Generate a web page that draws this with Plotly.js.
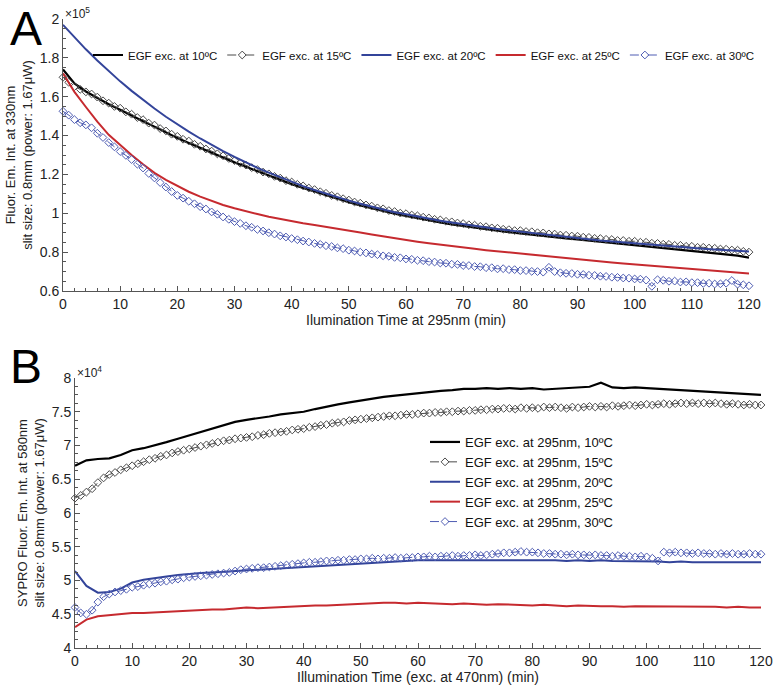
<!DOCTYPE html>
<html><head><meta charset="utf-8">
<script src="https://cdn.plot.ly/plotly-3.0.1.min.js"></script>
<style>html,body{margin:0;padding:0;background:#fff}#chart{width:775px;height:686px}</style>
</head><body><div id="chart"></div>
<script>
// ---------- time grids (min) ----------
const t2 = [0,2,4,6,8,10,12,14,16,18,20,22,24,26,28,30,32,34,36,38,40,42,44,46,48,50,52,54,56,58,60,62,64,66,68,70,72,74,76,78,80,82,84,86,88,90,92,94,96,98,100,102,104,106,108,110,112,114,116,118,120];
const t1 = [0,1,2,3,4,5,6,7,8,9,10,11,12,13,14,15,16,17,18,19,20,21,22,23,24,25,26,27,28,29,30,31,32,33,34,35,36,37,38,39,40,41,42,43,44,45,46,47,48,49,50,51,52,53,54,55,56,57,58,59,60,61,62,63,64,65,66,67,68,69,70,71,72,73,74,75,76,77,78,79,80,81,82,83,84,85,86,87,88,89,90,91,92,93,94,95,96,97,98,99,100,101,102,103,104,105,106,107,108,109,110,111,112,113,114,115,116,117,118,119,120];

// ---------- Panel A (x10^5) ----------
const namesA = ['EGF exc. at 10ºC','EGF exc. at 15ºC','EGF exc. at 20ºC','EGF exc. at 25ºC','EGF exc. at 30ºC'];
const a10 = [1.740,1.668,1.627,1.592,1.561,1.533,1.502,1.474,1.446,1.416,1.388,1.362,1.336,1.311,1.287,1.262,1.239,1.216,1.194,1.172,1.150,1.130,1.111,1.092,1.074,1.057,1.041,1.026,1.012,0.998,0.986,0.974,0.963,0.953,0.943,0.934,0.926,0.918,0.910,0.903,0.896,0.889,0.883,0.877,0.871,0.866,0.860,0.854,0.849,0.843,0.838,0.832,0.826,0.821,0.815,0.809,0.803,0.797,0.790,0.782,0.772];
const a15 = [1.700,1.674,1.652,1.638,1.625,1.614,1.598,1.579,1.567,1.550,1.541,1.522,1.510,1.493,1.482,1.464,1.454,1.436,1.424,1.407,1.396,1.381,1.372,1.355,1.345,1.331,1.320,1.306,1.296,1.282,1.271,1.258,1.248,1.235,1.225,1.212,1.203,1.190,1.181,1.168,1.161,1.149,1.141,1.130,1.122,1.111,1.103,1.092,1.085,1.075,1.068,1.058,1.052,1.043,1.037,1.028,1.023,1.014,1.009,1.001,0.998,0.991,0.987,0.980,0.976,0.969,0.966,0.959,0.956,0.950,0.947,0.941,0.939,0.933,0.931,0.925,0.923,0.918,0.916,0.911,0.911,0.906,0.905,0.900,0.899,0.894,0.893,0.888,0.887,0.883,0.882,0.877,0.876,0.871,0.870,0.866,0.865,0.860,0.860,0.856,0.856,0.851,0.851,0.846,0.845,0.841,0.840,0.835,0.835,0.830,0.830,0.825,0.825,0.821,0.820,0.816,0.815,0.811,0.810,0.804,0.800];
const a20 = [1.970,1.905,1.844,1.786,1.731,1.679,1.630,1.583,1.539,1.497,1.458,1.420,1.385,1.351,1.320,1.290,1.261,1.234,1.209,1.185,1.162,1.140,1.120,1.101,1.082,1.065,1.049,1.033,1.019,1.005,0.995,0.983,0.972,0.962,0.952,0.943,0.935,0.927,0.919,0.912,0.905,0.898,0.891,0.885,0.878,0.872,0.866,0.860,0.855,0.850,0.845,0.840,0.835,0.831,0.826,0.822,0.818,0.814,0.810,0.806,0.803];
const a25 = [1.720,1.625,1.547,1.472,1.404,1.350,1.300,1.252,1.208,1.172,1.140,1.111,1.086,1.063,1.043,1.026,1.010,0.996,0.982,0.970,0.959,0.949,0.940,0.931,0.922,0.912,0.901,0.891,0.881,0.871,0.862,0.854,0.846,0.838,0.831,0.824,0.817,0.810,0.804,0.798,0.792,0.786,0.780,0.774,0.768,0.763,0.758,0.753,0.747,0.742,0.737,0.732,0.727,0.722,0.718,0.713,0.709,0.704,0.699,0.695,0.690];
const a30 = [1.525,1.505,1.482,1.466,1.455,1.440,1.412,1.390,1.364,1.342,1.318,1.298,1.277,1.253,1.233,1.205,1.182,1.158,1.135,1.112,1.092,1.078,1.062,1.049,1.034,1.022,1.007,0.995,0.981,0.969,0.957,0.948,0.936,0.928,0.917,0.909,0.900,0.893,0.884,0.878,0.870,0.864,0.857,0.852,0.845,0.840,0.833,0.829,0.822,0.818,0.810,0.806,0.800,0.796,0.790,0.787,0.781,0.779,0.773,0.771,0.765,0.763,0.758,0.756,0.751,0.749,0.744,0.743,0.738,0.737,0.731,0.731,0.726,0.725,0.720,0.720,0.714,0.715,0.710,0.710,0.705,0.705,0.701,0.700,0.697,0.722,0.700,0.694,0.691,0.690,0.686,0.685,0.681,0.680,0.676,0.675,0.671,0.670,0.667,0.666,0.662,0.661,0.656,0.624,0.658,0.655,0.650,0.651,0.646,0.647,0.643,0.643,0.639,0.640,0.636,0.637,0.640,0.654,0.635,0.632,0.627];

// ---------- Panel B (x10^4) ----------
const namesB = ['EGF exc. at 295nm, 10ºC','EGF exc. at 295nm, 15ºC','EGF exc. at 295nm, 20ºC','EGF exc. at 295nm, 25ºC','EGF exc. at 295nm, 30ºC'];
const b10 = [6.70,6.78,6.80,6.81,6.86,6.93,6.96,7.00,7.05,7.10,7.15,7.20,7.26,7.30,7.35,7.38,7.40,7.43,7.46,7.48,7.50,7.54,7.58,7.61,7.64,7.67,7.70,7.72,7.74,7.76,7.78,7.80,7.81,7.82,7.84,7.84,7.85,7.84,7.85,7.84,7.85,7.83,7.84,7.85,7.86,7.87,7.93,7.86,7.85,7.86,7.85,7.84,7.83,7.83,7.82,7.81,7.80,7.79,7.78,7.77,7.75];
const b15 = [6.22,6.26,6.31,6.36,6.45,6.52,6.57,6.60,6.64,6.67,6.70,6.73,6.76,6.79,6.81,6.84,6.86,6.89,6.91,6.93,6.95,6.97,6.99,7.01,7.03,7.05,7.07,7.08,7.10,7.11,7.12,7.13,7.15,7.16,7.18,7.19,7.20,7.21,7.23,7.24,7.25,7.27,7.28,7.30,7.31,7.33,7.34,7.35,7.37,7.38,7.39,7.40,7.41,7.42,7.43,7.44,7.44,7.45,7.46,7.46,7.47,7.48,7.48,7.49,7.49,7.50,7.50,7.51,7.51,7.52,7.52,7.53,7.53,7.54,7.54,7.55,7.55,7.54,7.56,7.55,7.56,7.55,7.57,7.56,7.57,7.56,7.55,7.57,7.56,7.57,7.58,7.57,7.58,7.57,7.59,7.58,7.59,7.60,7.59,7.60,7.61,7.60,7.61,7.62,7.61,7.62,7.63,7.62,7.63,7.62,7.63,7.62,7.63,7.62,7.61,7.62,7.61,7.60,7.61,7.60,7.60];
const b20 = [5.14,4.92,4.82,4.83,4.88,4.97,5.01,5.04,5.06,5.08,5.10,5.11,5.12,5.13,5.14,5.15,5.16,5.17,5.18,5.19,5.21,5.22,5.23,5.24,5.25,5.26,5.27,5.28,5.29,5.29,5.30,5.30,5.30,5.31,5.30,5.31,5.30,5.31,5.30,5.31,5.30,5.30,5.30,5.29,5.30,5.29,5.30,5.29,5.29,5.28,5.28,5.28,5.27,5.28,5.27,5.27,5.27,5.26,5.27,5.26,5.27];
const b25 = [4.31,4.42,4.47,4.49,4.51,4.52,4.52,4.53,4.53,4.55,4.55,4.56,4.57,4.57,4.58,4.60,4.59,4.60,4.61,4.62,4.62,4.63,4.63,4.64,4.65,4.65,4.66,4.67,4.67,4.66,4.67,4.66,4.66,4.65,4.66,4.65,4.64,4.65,4.64,4.64,4.63,4.64,4.63,4.62,4.63,4.62,4.62,4.62,4.61,4.62,4.62,4.61,4.62,4.61,4.62,4.61,4.61,4.60,4.61,4.60,4.60];
const b30 = [4.60,4.52,4.50,4.56,4.68,4.76,4.80,4.83,4.85,4.87,4.90,4.91,4.93,4.95,4.96,4.98,4.99,5.01,5.02,5.04,5.05,5.06,5.07,5.08,5.09,5.10,5.11,5.12,5.14,5.16,5.17,5.18,5.19,5.19,5.20,5.21,5.22,5.23,5.24,5.25,5.26,5.27,5.27,5.28,5.29,5.29,5.30,5.30,5.31,5.31,5.32,5.32,5.33,5.32,5.33,5.33,5.34,5.33,5.34,5.34,5.35,5.35,5.36,5.35,5.36,5.36,5.37,5.36,5.37,5.37,5.38,5.37,5.38,5.39,5.40,5.41,5.41,5.42,5.43,5.42,5.42,5.41,5.40,5.40,5.39,5.39,5.38,5.39,5.38,5.38,5.37,5.38,5.37,5.37,5.36,5.37,5.36,5.36,5.35,5.36,5.35,5.33,5.29,5.42,5.41,5.42,5.41,5.41,5.40,5.41,5.40,5.40,5.39,5.40,5.39,5.40,5.39,5.39,5.40,5.39,5.39];

const xTicks = [0,10,20,30,40,50,60,70,80,90,100,110,120];
const yTicksA = [0.6,0.8,1,1.2,1.4,1.6,1.8,2];
const yTicksB = [4,4.5,5,5.5,6,6.5,7,7.5,8];

const C = {k:'#000000', g:'#4a4a4a', b:'#33449a', r:'#c62a2f', lb:'#4f5db3'};
const FONT = 'Liberation Sans, Arial, Helvetica, sans-serif';

function lineTrace(x, y, name, color, w, xa, ya, leg){
  return {x:x, y:y, name:name, type:'scatter', mode:'lines', xaxis:xa, yaxis:ya, legend:leg,
          line:{color:color, width:w}, cliponaxis:false};
}
function diamondTrace(x, y, name, color, xa, ya, leg){
  return {x:x, y:y, name:name, type:'scatter', mode:'lines+markers', xaxis:xa, yaxis:ya, legend:leg,
          line:{color:color, width:1, dash:'dash'}, cliponaxis:false,
          marker:{symbol:'diamond-open', size:6, color:color, line:{color:color, width:1}}};
}

const data = [
  lineTrace(t2, a10, namesA[0], C.k, 2.2, 'x', 'y', 'legend'),
  diamondTrace(t1, a15, namesA[1], C.g, 'x', 'y', 'legend'),
  lineTrace(t2, a20, namesA[2], C.b, 2, 'x', 'y', 'legend'),
  lineTrace(t2, a25, namesA[3], C.r, 2, 'x', 'y', 'legend'),
  diamondTrace(t1, a30, namesA[4], C.lb, 'x', 'y', 'legend'),
  lineTrace(t2, b10, namesB[0], C.k, 2.2, 'x2', 'y2', 'legend2'),
  diamondTrace(t1, b15, namesB[1], C.g, 'x2', 'y2', 'legend2'),
  lineTrace(t2, b20, namesB[2], C.b, 2, 'x2', 'y2', 'legend2'),
  lineTrace(t2, b25, namesB[3], C.r, 2, 'x2', 'y2', 'legend2'),
  diamondTrace(t1, b30, namesB[4], C.lb, 'x2', 'y2', 'legend2')
];

const W = 775, H = 686;
function px(x){return x/W;}
function py(y){return 1 - y/H;}

const axBase = {
  showline:true, linecolor:'#555', linewidth:1, mirror:false, showgrid:false, zeroline:false,
  ticks:'inside', ticklen:5, tickwidth:1, tickcolor:'#555', ticklabeloverflow:'allow',
  tickfont:{size:14, color:'#222', family:FONT}
};

const layout = {
  width:W, height:H, margin:{l:0,r:0,t:0,b:0},
  paper_bgcolor:'#ffffff', plot_bgcolor:'#ffffff',
  font:{family:FONT, size:13, color:'#222'},
  showlegend:true,
  xaxis: Object.assign({}, axBase, {
    domain:[px(63), px(749)], anchor:'y', range:[0,120], tickvals:xTicks,
    minor:{dtick:2, ticks:'inside', ticklen:3, tickcolor:'#555'},
    title:{text:'Ilumination Time at 295nm (min)', font:{size:14, color:'#222'}, standoff:3}
  }),
  yaxis: Object.assign({}, axBase, {
    domain:[py(291), py(19)], anchor:'x', range:[0.6,2.0], tickvals:yTicksA,
    minor:{dtick:0.05, ticks:'inside', ticklen:3, tickcolor:'#555'},
    title:{text:'Fluor. Em. Int. at 330nm<br>slit size: 0.8mm (power: 1.67μW)', font:{size:13, color:'#222'}, standoff:4}
  }),
  xaxis2: Object.assign({}, axBase, {
    domain:[px(75), px(761)], anchor:'y2', range:[0,120], tickvals:xTicks,
    minor:{dtick:2, ticks:'inside', ticklen:3, tickcolor:'#555'},
    title:{text:'Illumination Time (exc. at 470nm) (min)', font:{size:14, color:'#222'}, standoff:3}
  }),
  yaxis2: Object.assign({}, axBase, {
    domain:[py(648), py(378)], anchor:'x2', range:[4,8], tickvals:yTicksB,
    minor:{dtick:0.125, ticks:'inside', ticklen:3, tickcolor:'#555'},
    title:{text:'SYPRO Fluor. Em. Int. at 580nm<br>slit size: 0.8mm (power: 1.67μW)', font:{size:13, color:'#222'}, standoff:4}
  }),
  legend:{orientation:'h', x:px(88), y:py(55), xanchor:'left', yanchor:'middle',
          font:{size:11.5, color:'#111'}, bgcolor:'rgba(0,0,0,0)', itemwidth:30, tracegroupgap:0},
  legend2:{orientation:'v', x:px(425), y:py(427), xanchor:'left', yanchor:'top',
          font:{size:13, color:'#111'}, bgcolor:'rgba(0,0,0,0)', itemwidth:30, tracegroupgap:0},
  annotations:[
    {text:'A', xref:'paper', yref:'paper', x:px(8), y:py(0), xanchor:'left', yanchor:'top', showarrow:false, font:{size:48, color:'#000'}},
    {text:'B', xref:'paper', yref:'paper', x:px(8), y:py(338), xanchor:'left', yanchor:'top', showarrow:false, font:{size:48, color:'#000'}},
    {text:'×10<sup>5</sup>', xref:'paper', yref:'paper', x:px(63), y:py(3), xanchor:'left', yanchor:'top', showarrow:false, font:{size:12, color:'#222'}},
    {text:'×10<sup>4</sup>', xref:'paper', yref:'paper', x:px(75), y:py(362), xanchor:'left', yanchor:'top', showarrow:false, font:{size:12, color:'#222'}}
  ]
};

Plotly.newPlot('chart', data, layout, {displayModeBar:false, staticPlot:true});
</script>
</body></html>
